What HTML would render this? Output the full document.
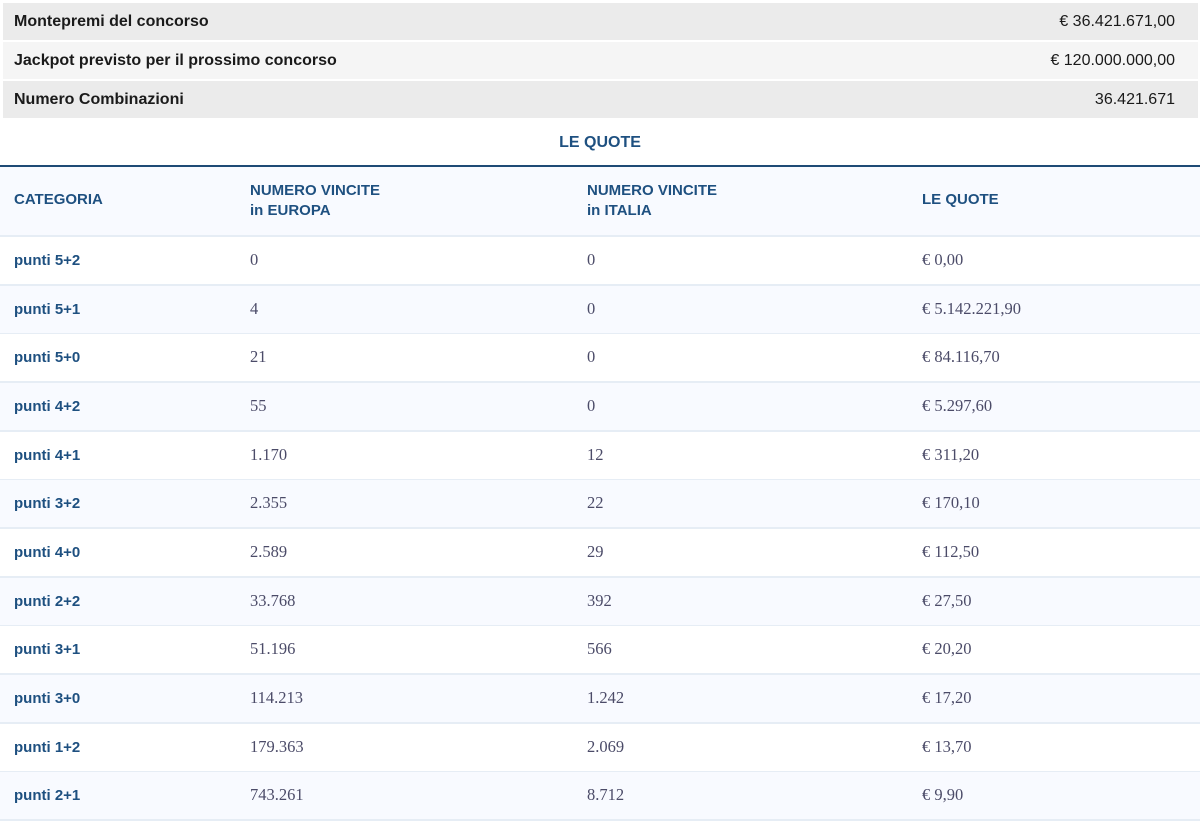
<!DOCTYPE html>
<html><head><meta charset="utf-8"><style>
body{margin:0;width:1200px;height:826px;background:#fff;font-family:"Liberation Sans",sans-serif;overflow:hidden}
.top{position:absolute;left:3px;width:1195px;height:37px;font-size:16px;font-weight:bold;color:#1a1a1a}
.top span{position:absolute;left:11px;top:10px}
.top b{position:absolute;right:23px;top:10px;font-weight:normal}
.title{position:absolute;top:134px;width:1200px;text-align:center;color:#1e5080;font-weight:bold;font-size:16px}
.line{position:absolute;top:165px;left:0;width:1200px;height:2px;background:#1e4a75}
.hdr{position:absolute;top:167px;left:0;width:1200px;height:68px;background:#f8faff;border-bottom:2px solid #e6edf5;color:#1e5080;font-weight:bold;font-size:15px}
.hdr div{position:absolute;line-height:20px}
.row{position:absolute;left:0;width:1200px;height:47px;border-bottom:2px solid #e6edf5}
.row div{position:absolute;top:13px;font-family:"Liberation Serif",serif;font-size:16.5px;color:#4b4b68}
.row div.c{font-family:"Liberation Sans",sans-serif;font-weight:bold;color:#1e5080;font-size:15px;top:15px}
</style></head><body>
<div class="top" style="top:3px;background:#ebebeb"><span>Montepremi del concorso</span><b>€ 36.421.671,00</b></div>
<div class="top" style="top:42px;background:#f5f5f5"><span>Jackpot previsto per il prossimo concorso</span><b>€ 120.000.000,00</b></div>
<div class="top" style="top:81px;background:#ebebeb"><span>Numero Combinazioni</span><b>36.421.671</b></div>
<div class="title">LE QUOTE</div>
<div class="line"></div>
<div class="hdr">
<div style="left:14px;top:23px">CATEGORIA</div>
<div style="left:250px;top:14px">NUMERO VINCITE<br>in EUROPA</div>
<div style="left:587px;top:14px">NUMERO VINCITE<br>in ITALIA</div>
<div style="left:922px;top:23px">LE QUOTE</div>
</div>
<div class="row" style="top:237px;background:#fff"><div class="c" style="left:14px">punti 5+2</div><div style="left:250px">0</div><div style="left:587px">0</div><div style="left:922px">€ 0,00</div></div>
<div class="row" style="top:286px;background:#f8faff"><div class="c" style="left:14px">punti 5+1</div><div style="left:250px">4</div><div style="left:587px">0</div><div style="left:922px">€ 5.142.221,90</div></div>
<div class="row" style="top:334px;background:#fff"><div class="c" style="left:14px">punti 5+0</div><div style="left:250px">21</div><div style="left:587px">0</div><div style="left:922px">€ 84.116,70</div></div>
<div class="row" style="top:383px;background:#f8faff"><div class="c" style="left:14px">punti 4+2</div><div style="left:250px">55</div><div style="left:587px">0</div><div style="left:922px">€ 5.297,60</div></div>
<div class="row" style="top:432px;background:#fff"><div class="c" style="left:14px">punti 4+1</div><div style="left:250px">1.170</div><div style="left:587px">12</div><div style="left:922px">€ 311,20</div></div>
<div class="row" style="top:480px;background:#f8faff"><div class="c" style="left:14px">punti 3+2</div><div style="left:250px">2.355</div><div style="left:587px">22</div><div style="left:922px">€ 170,10</div></div>
<div class="row" style="top:529px;background:#fff"><div class="c" style="left:14px">punti 4+0</div><div style="left:250px">2.589</div><div style="left:587px">29</div><div style="left:922px">€ 112,50</div></div>
<div class="row" style="top:578px;background:#f8faff"><div class="c" style="left:14px">punti 2+2</div><div style="left:250px">33.768</div><div style="left:587px">392</div><div style="left:922px">€ 27,50</div></div>
<div class="row" style="top:626px;background:#fff"><div class="c" style="left:14px">punti 3+1</div><div style="left:250px">51.196</div><div style="left:587px">566</div><div style="left:922px">€ 20,20</div></div>
<div class="row" style="top:675px;background:#f8faff"><div class="c" style="left:14px">punti 3+0</div><div style="left:250px">114.213</div><div style="left:587px">1.242</div><div style="left:922px">€ 17,20</div></div>
<div class="row" style="top:724px;background:#fff"><div class="c" style="left:14px">punti 1+2</div><div style="left:250px">179.363</div><div style="left:587px">2.069</div><div style="left:922px">€ 13,70</div></div>
<div class="row" style="top:772px;background:#f8faff"><div class="c" style="left:14px">punti 2+1</div><div style="left:250px">743.261</div><div style="left:587px">8.712</div><div style="left:922px">€ 9,90</div></div>
</body></html>
